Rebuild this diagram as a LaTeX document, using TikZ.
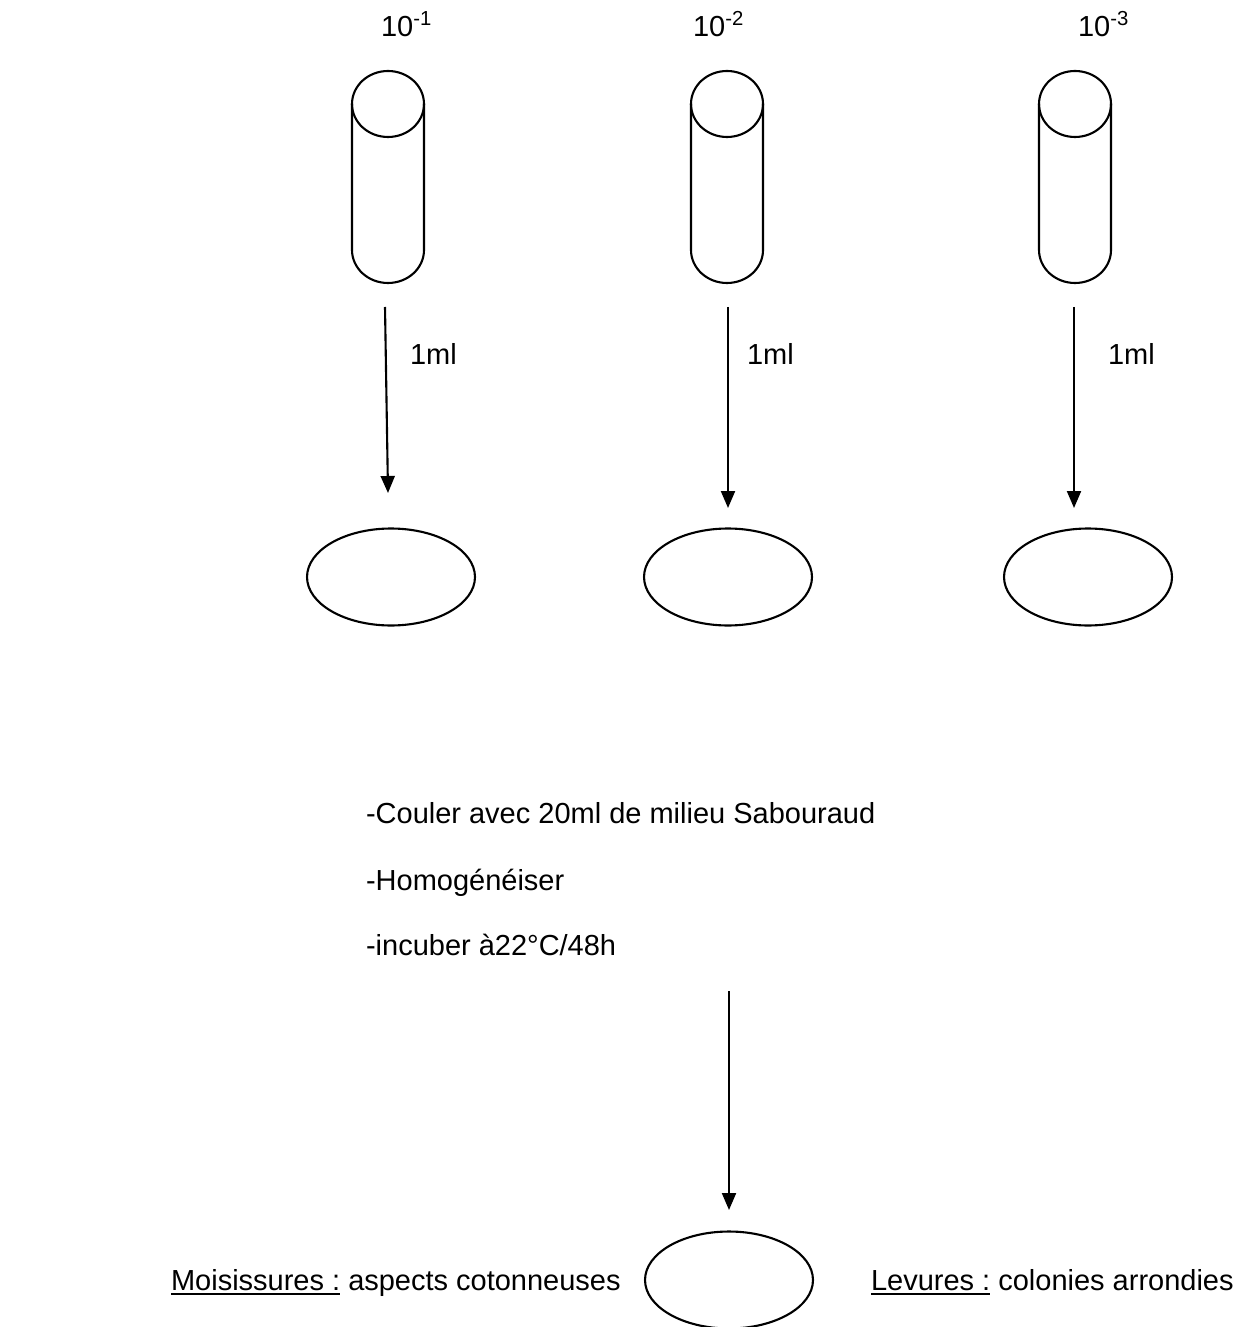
\documentclass[tikz,border=0pt]{standalone}
\usepackage{fontspec}
\setmainfont{Liberation Sans}
\usetikzlibrary{arrows.meta,shapes.geometric}
\newcommand{\undl}[1]{\leavevmode\vtop{\hbox{#1}\kern1.6pt\hrule height 1.2pt}}
\tikzset{
  every picture/.style={line width=1.2pt},
  lbl/.style={font=\fontsize{16.5}{19}\selectfont, inner sep=0pt, anchor=base west},
  plate/.style={draw, ellipse, inner sep=0pt, minimum width=3.36cm, minimum height=1.94cm},
  flow/.style={-{Triangle[length=3.4mm,width=2.8mm]}},
}
\begin{document}
\begin{tikzpicture}[x=0.02cm, y=-0.02cm]
\useasboundingbox (0,0) rectangle (1247,1327);
% dilution tubes
\foreach \n/\x in {1/388, 2/727, 3/1075} {
  \draw (\x-36,104) -- (\x-36,250) arc[start angle=180, end angle=0, x radius=36, y radius=33] -- (\x+36,104);
  \draw (\x,104) ellipse[x radius=36, y radius=33];
}
\node[lbl] (d1) at (380,37) {10\textsuperscript{-1}};
\node[lbl] (d2) at (692,37) {10\textsuperscript{-2}};
\node[lbl] (d3) at (1077,37) {10\textsuperscript{-3}};
% 1ml into the dishes
\coordinate (a1) at (385,307); \coordinate (b1) at (388,493);
\coordinate (a2) at (728,307); \coordinate (b2) at (728,508);
\coordinate (a3) at (1074,307); \coordinate (b3) at (1074,508);
\foreach \n in {1,2,3} \draw[flow] (a\n) -- (b\n);
\node[lbl] (v1) at (409,365) {1ml};
\node[lbl] (v2) at (746,365) {1ml};
\node[lbl] (v3) at (1107,365) {1ml};
\node[plate] (p1) at (391,577) {};
\node[plate] (p2) at (728,577) {};
\node[plate] (p3) at (1088,577) {};
% steps
\node[lbl] (s1) at (365,823) {-Couler avec 20ml de milieu Sabouraud};
\node[lbl] (s2) at (365,890) {-Homogénéiser};
\node[lbl] (s3) at (365,955) {-incuber à22°C/48h};
\coordinate (a4) at (729,991); \coordinate (b4) at (729,1210);
\draw[flow] (a4) -- (b4);
\node[plate] (p4) at (729,1280) {};
\node[lbl] (m) at (170,1290) {\undl{Moisissures :} aspects cotonneuses};
\node[lbl] (l) at (870,1290) {\undl{Levures :} colonies arrondies};
\end{tikzpicture}
\end{document}
